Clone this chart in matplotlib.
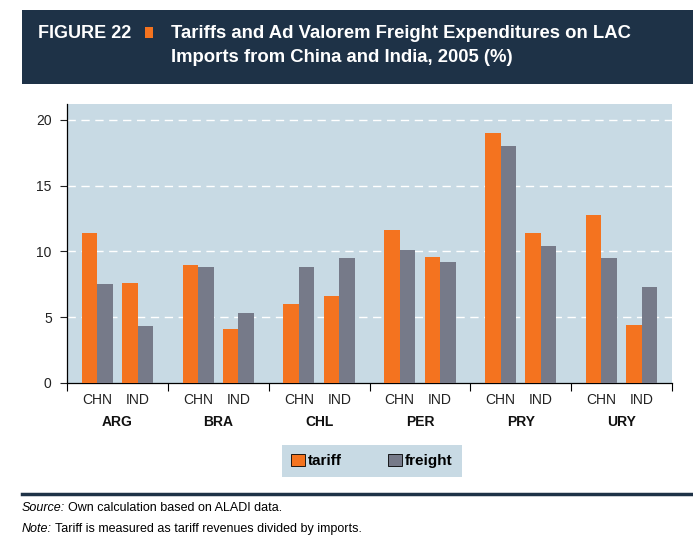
import matplotlib.pyplot as plt
import matplotlib.patches as mpatches
import numpy as np

# data
countries = ['ARG', 'BRA', 'CHL', 'PER', 'PRY', 'URY']
partners = ['CHN', 'IND']
tariff_chn = [11.4, 9.0, 6.0, 11.6, 19.0, 12.8]
tariff_ind = [7.6, 4.1, 6.6, 9.6, 11.4, 4.4]
freight_chn = [7.5, 8.8, 8.8, 10.1, 18.0, 9.5]
freight_ind = [4.3, 5.3, 9.5, 9.2, 10.4, 7.3]

navy = '#1e3247'
orange = '#f4731f'
grey = '#767a89'
panel = '#c8dae4'

plt.rcParams['font.family'] = ['Liberation Sans Narrow', 'Liberation Sans', 'DejaVu Sans']

fig = plt.figure(figsize=(6.93, 5.57), dpi=100)

# header band
fig.patches.append(mpatches.Rectangle((22 / 693, 1 - 84 / 557), 671 / 693, 74 / 557,
                                      transform=fig.transFigure, facecolor=navy, edgecolor='none'))
fig.patches.append(mpatches.Rectangle((145 / 693, 1 - 38 / 557), 8 / 693, 11 / 557,
                                      transform=fig.transFigure, facecolor=orange, edgecolor='none'))
fig.text(38 / 693, 1 - 33 / 557, 'FIGURE 22', color='white', fontsize=13, fontweight='bold', va='center')
fig.text(171 / 693, 1 - 33 / 557, 'Tariffs and Ad Valorem Freight Expenditures on LAC',
         color='white', fontsize=13.3, fontweight='bold', va='center')
fig.text(171 / 693, 1 - 57 / 557, 'Imports from China and India, 2005 (%)',
         color='white', fontsize=13.3, fontweight='bold', va='center')

ax = fig.add_axes([67 / 693, 1 - 383 / 557, 605 / 693, 279 / 557])
ax.set_facecolor(panel)

g = np.arange(len(countries))
w = 0.153
ax.bar(g + 0.3 - w / 2, tariff_chn, w, color=orange, zorder=3)
ax.bar(g + 0.3 + w / 2, freight_chn, w, color=grey, zorder=3)
ax.bar(g + 0.7 - w / 2, tariff_ind, w, color=orange, zorder=3)
ax.bar(g + 0.7 + w / 2, freight_ind, w, color=grey, zorder=3)

ax.set_xlim(0, len(countries))
ax.set_ylim(0, 21.2)
ax.set_yticks([0, 5, 10, 15, 20])
ax.tick_params(axis='y', labelsize=10, length=5, width=0.8, direction='out', pad=6, colors='#222222')
ax.set_xticks(np.arange(len(countries) + 1))
ax.set_xticklabels([])
ax.tick_params(axis='x', length=6, width=0.8, direction='out')
for y in [5, 10, 15, 20]:
    ax.axhline(y, color='white', lw=1, dashes=(6, 4), zorder=1)
for s in ['top', 'right']:
    ax.spines[s].set_visible(False)
for s in ['left', 'bottom']:
    ax.spines[s].set_linewidth(0.9)

for i, c in enumerate(countries):
    for j, p in enumerate(partners):
        ax.text(i + 0.3 + 0.4 * j, -0.06, p, transform=ax.get_xaxis_transform(),
                ha='center', va='center', fontsize=10, color='#222222')
    ax.text(i + 0.5, -0.14, c, transform=ax.get_xaxis_transform(),
            ha='center', va='center', fontsize=10, fontweight='bold', color='#111111')

handles = [mpatches.Patch(facecolor=orange, edgecolor='black', lw=0.6, label='tariff'),
           mpatches.Patch(facecolor=grey, edgecolor='black', lw=0.6, label='freight')]
leg = fig.legend(handles=handles, loc='center', bbox_to_anchor=(372 / 693, 1 - 461 / 557), ncol=2,
                 frameon=True, fancybox=False, facecolor=panel, edgecolor='none', framealpha=1,
                 handlelength=0.9, handleheight=0.9, handletextpad=0.2, columnspacing=3.0,
                 borderpad=0.6, prop={'size': 11, 'weight': 'bold'})

# footer rule and notes (italic lead word, then regular text)
fig.add_artist(plt.Line2D([22 / 693, 1], [1 - 494 / 557] * 2, color=navy, lw=2.5))
renderer = fig.canvas.get_renderer()
notes = [('Source:', 'Own calculation based on ALADI data.', 508),
         ('Note:', 'Tariff is measured as tariff revenues divided by imports.', 529)]
for lead, rest, ypix in notes:
    t = fig.text(22 / 693, 1 - ypix / 557, lead, fontsize=9, style='italic', va='center')
    bb = t.get_window_extent(renderer)
    fig.text((bb.x1 + 3) / fig.bbox.width, 1 - ypix / 557, rest, fontsize=9, va='center')

plt.savefig('out.png', dpi=100)
